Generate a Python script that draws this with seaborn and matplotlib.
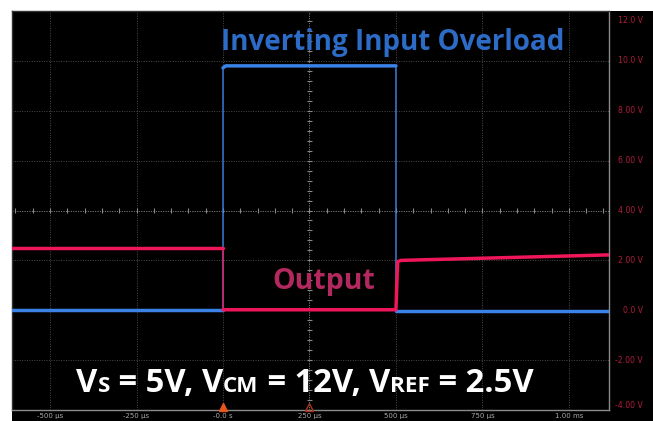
import numpy as np
import pandas as pd
import matplotlib
matplotlib.use("Agg")
import matplotlib.pyplot as plt
import matplotlib.transforms as mtransforms
from matplotlib.patches import Rectangle
import seaborn as sns

# ---------------- data ----------------
input_t = [-610, 0, 0, 8, 500, 500, 1116]            # µs
input_v = [0.0, 0.0, 9.72, 9.8, 9.8, -0.04, -0.04]   # V
output_t = [-610, 0, 0, 500, 505, 515, 1116]         # µs
output_v = [2.5, 2.5, 0.02, 0.02, 1.95, 2.0, 2.22]   # V

x_ticks = [-500, -250, 0, 250, 500, 750, 1000]
x_tick_labels = ["-500 µs", "-250 µs", "-0.0 s", "250 µs", "500 µs", "750 µs", "1.00 ms"]
y_ticks = [12, 10, 8, 6, 4, 2, 0, -2, -4]
y_tick_labels = ["12.0 V", "10.0 V", "8.00 V", "6.00 V", "4.00 V", "2.00 V", "0.0 V", "-2.00 V", "-4.00 V"]
trigger_t = [0]
ref_t = [250]

title_text = "Inverting Input Overload"
output_text = "Output"
cond_pieces = ["V", "S", " = 5V, ", "V", "CM", " = 12V, ", "V", "REF", " = 2.5V"]
cond_small = [False, True, False, False, True, False, False, True, False]

# ---------------- style ----------------
sns.set_style("dark")
plt.rcParams["font.family"] = ["DejaVu Sans"]

W, H = 653, 421
fig = plt.figure(figsize=(W / 100, H / 100), dpi=100, facecolor="white")
fig.patches.append(Rectangle((12 / W, 0), 1, 1 - 11 / H, transform=fig.transFigure,
                             facecolor="black", edgecolor="none", zorder=-10))
ax = fig.add_axes([12 / W, 11 / H, (609 - 12) / W, (410 - 11) / H])
ax.set_facecolor("black")
ax.set_xlim(-610, 1116)
ax.set_ylim(-4, 12)

# grid
for xt in x_ticks:
    ax.axvline(xt, color="#4a4a4a", lw=0.7, ls=(0, (1, 1.5)), zorder=1)
for yt in y_ticks:
    ax.axhline(yt, color="#4a4a4a", lw=0.7, ls=(0, (1, 1.5)), zorder=1)

# center crosshair with minor ticks
cx, cy = 250, 4
ax.axvline(cx, color="#777777", lw=0.7, ls=(0, (1, 1.5)), zorder=1)
ax.axhline(cy, color="#777777", lw=0.7, ls=(0, (1, 1.5)), zorder=1)
minor_x = np.arange(-600, 1120, 50)
ax.vlines(minor_x, cy - 0.09, cy + 0.09, color="#888888", lw=0.8, zorder=1)
minor_y = np.arange(-4, 12.01, 0.4)
ax.hlines(minor_y, cx - 6, cx + 6, color="#888888", lw=0.8, zorder=1)

# spines
for s in ["left", "top"]:
    ax.spines[s].set_color("#333333")
for s in ["right", "bottom"]:
    ax.spines[s].set_color("#8a8a8a")
for s in ax.spines.values():
    s.set_linewidth(1.0)

# traces
blue = "#3b82e6"
red = "#f0165a"


def draw_trace(t, v, color):
    t = np.asarray(t, float)
    v = np.asarray(v, float)
    # thin full trace (vertical edges)
    ax.plot(t, v, color=color, lw=1.1, zorder=3, alpha=0.9)
    # thick level segments
    seg = np.concatenate([[0], np.cumsum(np.diff(t) == 0)])
    df = pd.DataFrame({"t": t, "v": v, "seg": seg})
    sns.lineplot(data=df, x="t", y="v", units="seg", estimator=None, sort=False,
                 color=color, lw=2.5, ax=ax, zorder=4)


draw_trace(input_t, input_v, blue)
draw_trace(output_t, output_v, red)

ax.set_xlabel("")
ax.set_ylabel("")

# x ticks
ax.set_xticks(x_ticks)
ax.set_xticklabels(x_tick_labels, fontsize=5, color="#a8a8a8")
ax.tick_params(axis="x", length=0, pad=2.2)
ax.set_yticks([])

# right y labels
tr = mtransforms.blended_transform_factory(fig.transFigure, ax.transData)
for yv, lab in zip(y_ticks, y_tick_labels):
    va = "center"
    off = 0
    if yv == max(y_ticks):
        va = "top"; off = -0.22
    elif yv == min(y_ticks):
        va = "bottom"; off = 0.0
    ax.text(643 / W, yv + off, lab, transform=tr, ha="right", va=va,
            fontsize=5.6, color="#b01c3c", clip_on=False)

# trigger markers (sitting on the bottom edge)
mk_tr = ax.transData + mtransforms.ScaledTranslation(0, 3.5 / 100, fig.dpi_scale_trans)
ax.plot(trigger_t, [-4] * len(trigger_t), marker="^", ms=6, color="#e8561c",
        mec="#e8561c", ls="none", clip_on=False, zorder=6, transform=mk_tr)
ax.plot(ref_t, [-4] * len(ref_t), marker="^", ms=6, mfc="none", mec="#a8301c",
        mew=1.0, ls="none", clip_on=False, zorder=6, transform=mk_tr)

# annotations
ax.text(0.638, 0.922, title_text, transform=ax.transAxes, ha="center", va="center",
        fontsize=20, fontweight="bold", color="#2c6cc6", family="Open Sans", zorder=7)
ax.text(0.523, 0.323, output_text, transform=ax.transAxes, ha="center", va="center",
        fontsize=20.5, fontweight="bold", color="#b3285f", family="Open Sans", zorder=7)

# condition text built piecewise (small caps subscripts)
fig.canvas.draw()
rend = fig.canvas.get_renderer()
big, small = 23.6, 16.2


def text_width(s, size):
    a = fig.text(0, 0, "|" + s + "|", fontsize=size, fontweight="bold", family="Open Sans")
    b = fig.text(0, 0, "||", fontsize=size, fontweight="bold", family="Open Sans")
    w = a.get_window_extent(rend).width - b.get_window_extent(rend).width
    a.remove(); b.remove()
    return w


widths = [text_width(p, small if sm else big) for p, sm in zip(cond_pieces, cond_small)]
total = sum(widths)
x = 305 - total / 2
base_y = H - 392
for p, sm, w in zip(cond_pieces, cond_small, widths):
    fig.text(x / W, base_y / H, p, fontsize=small if sm else big, fontweight="bold",
             family="Open Sans", color="white", ha="left", va="baseline", zorder=8)
    x += w

fig.savefig("out.png", dpi=100, facecolor="white")
